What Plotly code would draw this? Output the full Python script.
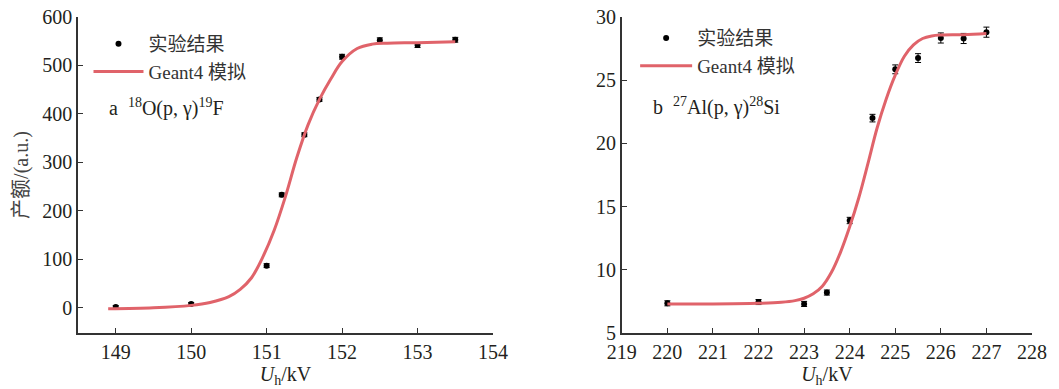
import plotly.graph_objects as go

# ---- Panel a: 18O(p,gamma)19F ----
a_exp_x = [149.0, 150.0, 151.0, 151.2, 151.5, 151.7, 152.0, 152.5, 153.0, 153.5]
a_exp_y = [1.5, 8, 87, 233, 357, 430, 518, 552, 542, 553]
a_exp_err = [3, 3, 4, 4, 4, 4, 5, 5, 5, 5]
a_sim_x = [148.9, 149.5, 150.0, 150.25, 150.5, 150.65, 150.8, 150.95, 151.1, 151.25,
           151.4, 151.55, 151.7, 151.85, 152.0, 152.2, 152.4, 152.6, 153.0, 153.5]
a_sim_y = [-2, 0, 5, 11, 23, 38, 62, 105, 160, 230,
           310, 378, 430, 472, 508, 535, 544, 546, 547, 549]

# ---- Panel b: 27Al(p,gamma)28Si ----
b_exp_x = [220.0, 222.0, 223.0, 223.5, 224.0, 224.5, 225.0, 225.5, 226.0, 226.5, 227.0]
b_exp_y = [7.35, 7.45, 7.3, 8.2, 13.9, 22.0, 25.86, 26.75, 28.34, 28.3, 28.8]
b_exp_err = [0.2, 0.2, 0.2, 0.2, 0.25, 0.3, 0.35, 0.35, 0.4, 0.4, 0.4]
b_sim_x = [220.0, 221.0, 222.0, 222.5, 222.8, 223.0, 223.2, 223.4, 223.6, 223.8, 224.0,
           224.2, 224.4, 224.6, 224.8, 225.0, 225.2, 225.4, 225.6, 225.8, 226.0, 226.5, 227.0]
b_sim_y = [7.3, 7.3, 7.35, 7.43, 7.56, 7.75, 8.1, 8.7, 9.8, 11.4, 13.4,
           15.7, 18.4, 21.2, 23.5, 25.4, 26.9, 27.8, 28.3, 28.5, 28.57, 28.6, 28.7]

leg_exp = "实验结果"
leg_sim = "Geant4 模拟"
x_title = "<i>U</i><sub>h</sub>/kV"
y_title = "产额/(a.u.)"

SERIF = "Liberation Serif, Times New Roman, Noto Sans CJK SC, serif"
LEGF = "Liberation Serif, Noto Sans CJK SC, serif"
TXT = "#231f20"
RED = "#e0636a"

fig = go.Figure()

fig.add_trace(go.Scatter(x=a_exp_x, y=a_exp_y, mode="markers", name=leg_exp,
                         marker=dict(color="black", size=6),
                         error_y=dict(type="data", array=a_exp_err, color="black",
                                      thickness=1, width=3),
                         xaxis="x", yaxis="y", legend="legend"))
fig.add_trace(go.Scatter(x=a_sim_x, y=a_sim_y, mode="lines", name=leg_sim,
                         line=dict(color=RED, width=3, shape="spline", smoothing=1.0),
                         xaxis="x", yaxis="y", legend="legend"))

fig.add_trace(go.Scatter(x=b_exp_x, y=b_exp_y, mode="markers", name=leg_exp,
                         marker=dict(color="black", size=6),
                         error_y=dict(type="data", array=b_exp_err, color="black",
                                      thickness=1, width=3),
                         xaxis="x2", yaxis="y2", legend="legend2"))
fig.add_trace(go.Scatter(x=b_sim_x, y=b_sim_y, mode="lines", name=leg_sim,
                         line=dict(color=RED, width=3, shape="spline", smoothing=1.0),
                         xaxis="x2", yaxis="y2", legend="legend2"))

axis_common = dict(showline=True, linecolor="#333333", linewidth=1.5, mirror=False,
                   ticks="inside", ticklen=5, tickwidth=1.2, tickcolor="#333333",
                   showgrid=False, zeroline=False, tickangle=0, automargin=False,
                   tickfont=dict(family=SERIF, size=20, color=TXT))

fig.update_layout(
    width=1059, height=389,
    margin=dict(l=78, r=27, t=17, b=56, autoexpand=False),
    paper_bgcolor="white", plot_bgcolor="white",
    showlegend=True,
    xaxis=dict(domain=[0, 0.435], range=[148.5, 154], tickvals=[149, 150, 151, 152, 153, 154],
               anchor="y",
               title=dict(text=x_title, font=dict(family=SERIF, size=20, color=TXT), standoff=5),
               **axis_common),
    yaxis=dict(domain=[0, 1], range=[-52, 600], tickvals=[0, 100, 200, 300, 400, 500, 600],
               anchor="x",
               title=dict(text=y_title, font=dict(family=SERIF, size=20, color="#444444"), standoff=8),
               **axis_common),
    xaxis2=dict(domain=[0.570, 1], range=[219, 228], tickvals=list(range(219, 229)),
                anchor="y2",
                title=dict(text=x_title, font=dict(family=SERIF, size=20, color=TXT), standoff=5),
                **axis_common),
    yaxis2=dict(domain=[0, 1], range=[5, 30], tickvals=[5, 10, 15, 20, 25, 30],
                anchor="x2", **axis_common),
    legend=dict(xref="paper", yref="paper", x=0.011, y=0.975,
                xanchor="left", yanchor="top", bgcolor="rgba(0,0,0,0)",
                font=dict(family=LEGF, size=19, color="#333333"),
                itemwidth=50, tracegroupgap=0),
    legend2=dict(xref="paper", yref="paper", x=0.584, y=0.993,
                 xanchor="left", yanchor="top", bgcolor="rgba(0,0,0,0)",
                 font=dict(family=LEGF, size=19, color="#333333"),
                 itemwidth=52, tracegroupgap=0),
    annotations=[
        dict(text="a  <sup>18</sup>O(p, γ)<sup>19</sup>F", xref="x domain", yref="y domain",
             x=0.07, y=0.715, xanchor="left", yanchor="middle", showarrow=False,
             font=dict(family=SERIF, size=20, color=TXT)),
        dict(text="b  <sup>27</sup>Al(p, γ)<sup>28</sup>Si", xref="x2 domain", yref="y2 domain",
             x=0.071, y=0.718, xanchor="left", yanchor="middle", showarrow=False,
             font=dict(family=SERIF, size=20, color=TXT)),
    ],
)

fig.write_html("out.html", config={"displayModeBar": False},
               post_script="document.body.style.margin='0';")
